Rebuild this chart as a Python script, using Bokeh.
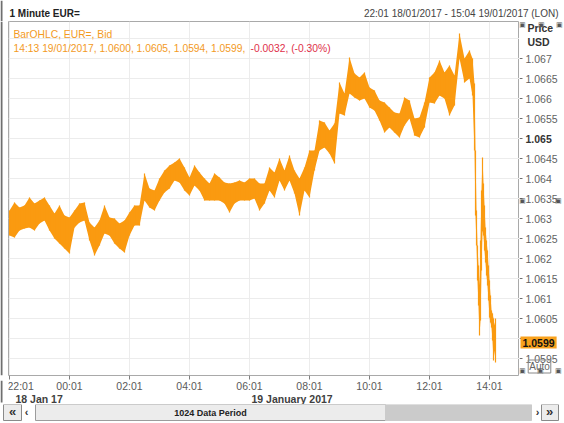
from bokeh.plotting import figure
from bokeh.models import Range1d, FixedTicker, Label
from bokeh.layouts import column, row
from bokeh.embed import file_html
from bokeh.resources import INLINE

# ---------------- data (EUR= 1 minute bars) ----------------
times = ["22:01", "22:11", "22:21", "22:31", "22:41", "22:51",
         "23:01", "23:11", "23:21", "23:31", "23:41", "23:51",
         "00:01", "00:11", "00:21", "00:31", "00:41", "00:51",
         "01:01", "01:11", "01:21", "01:31", "01:41", "01:51",
         "02:01", "02:11", "02:21", "02:31", "02:41", "02:51",
         "03:01", "03:11", "03:21", "03:31", "03:41", "03:51",
         "04:01", "04:11", "04:21", "04:31", "04:41", "04:51",
         "05:01", "05:11", "05:21", "05:31", "05:41", "05:51",
         "06:01", "06:11", "06:21", "06:31", "06:41", "06:51",
         "07:01", "07:11", "07:21", "07:31", "07:41", "07:51",
         "08:01", "08:11", "08:21", "08:31", "08:41", "08:51",
         "09:01", "09:11", "09:21", "09:31", "09:41", "09:51",
         "10:01", "10:11", "10:21", "10:31", "10:41", "10:51",
         "11:01", "11:11", "11:21", "11:31", "11:41", "11:51",
         "12:01", "12:11", "12:21", "12:31", "12:41", "12:51",
         "13:01", "13:11", "13:21", "13:27", "13:31", "13:33",
         "13:35", "13:37", "13:39", "13:41", "13:43", "13:45",
         "13:47", "13:49", "13:51", "13:53", "13:55", "13:57",
         "13:59", "14:01", "14:03", "14:05", "14:07", "14:09",
         "14:11", "14:13"]

highs = [1.0632, 1.0634, 1.063275, 1.063325, 1.063525, 1.063375,
         1.06345, 1.063525, 1.063325, 1.063125, 1.063325, 1.063075,
         1.063025, 1.0632, 1.063375, 1.0634, 1.0629, 1.062775,
         1.06295, 1.063325, 1.063025, 1.0630, 1.062875, 1.06295,
         1.06315, 1.063325, 1.063325, 1.064125, 1.06375, 1.0637,
         1.0640, 1.0642, 1.064325, 1.0644, 1.0645, 1.064275,
         1.064025, 1.064325, 1.06415, 1.0640, 1.063875, 1.064125,
         1.064025, 1.0639, 1.063875, 1.0639, 1.06395, 1.0639,
         1.0640, 1.0640, 1.063875, 1.063875, 1.064275, 1.06415,
         1.0645, 1.0642, 1.064575, 1.0642, 1.0640, 1.064275,
         1.0647, 1.0647, 1.06545, 1.0654, 1.0652, 1.065375,
         1.0664, 1.066125, 1.067025, 1.066625, 1.066525, 1.06665,
         1.066275, 1.0662, 1.06595, 1.0659, 1.065775, 1.06565,
         1.065625, 1.066025, 1.06595, 1.0655, 1.065525, 1.0659,
         1.066525, 1.06665, 1.06695, 1.06665, 1.066825, 1.066575,
         1.067625, 1.0670, 1.0672, 1.0670, 1.066375, 1.0647,
         1.0632, 1.062325, 1.061825, 1.061325, 1.06245, 1.0637,
         1.064525, 1.063875, 1.063325, 1.062775, 1.06245, 1.0622,
         1.061825, 1.06145, 1.061075, 1.0607, 1.060625, 1.0605,
         1.060325, 1.0605]

lows = [1.062575, 1.062525, 1.0627, 1.06275, 1.062775, 1.0627,
        1.062875, 1.06295, 1.0627, 1.0625, 1.062375, 1.06225,
        1.062125, 1.062775, 1.0629, 1.06295, 1.06245, 1.062075,
        1.062325, 1.062625, 1.062575, 1.062375, 1.06225, 1.06215,
        1.062575, 1.062825, 1.062825, 1.06345, 1.063275, 1.0632,
        1.06345, 1.06365, 1.06375, 1.06395, 1.0639, 1.0637,
        1.063575, 1.063825, 1.0637, 1.06345, 1.06345, 1.06345,
        1.06345, 1.063375, 1.06315, 1.063375, 1.06345, 1.06345,
        1.06345, 1.0635, 1.0632, 1.063375, 1.0637, 1.063525,
        1.06395, 1.0637, 1.06395, 1.063625, 1.063075, 1.0637,
        1.063525, 1.0642, 1.0647, 1.064775, 1.064625, 1.064375,
        1.065625, 1.065575, 1.066125, 1.066025, 1.06595, 1.0660,
        1.065775, 1.0657, 1.06545, 1.06515, 1.065275, 1.06515,
        1.065025, 1.065325, 1.0655, 1.065075, 1.065025, 1.065275,
        1.0659, 1.065875, 1.066075, 1.0660, 1.065575, 1.065825,
        1.0670, 1.0664, 1.0665, 1.066075, 1.0647, 1.063075,
        1.062325, 1.06145, 1.060825, 1.060075, 1.06045, 1.0617,
        1.0627, 1.062575, 1.0622, 1.0619, 1.061575, 1.061325,
        1.06095, 1.060525, 1.0604, 1.060275, 1.05995, 1.05945,
        1.0597, 1.0594]

x_tick_labels = ["22:01", "00:01", "02:01", "04:01", "06:01",
                 "08:01", "10:01", "12:01", "14:01"]
y_tick_values = [1.0595, 1.0600, 1.0605, 1.0610, 1.0615, 1.0620, 1.0625,
                 1.0630, 1.0635, 1.0640, 1.0645, 1.0650, 1.0655, 1.0660,
                 1.0665, 1.0670]
y_tick_labels = ["1.0595", "", "1.0605", "1.061", "1.0615", "1.062", "1.0625",
                 "1.063", "1.0635", "1.064", "1.0645", "1.065", "1.0655", "1.066",
                 "1.0665", "1.067"]
y_grid_values = y_tick_values + [1.0675]
last_price = 1.0599
last_price_label = "1.0599"

header_left = "1 Minute EUR="
header_right = "22:01 18/01/2017 - 15:04 19/01/2017 (LON)"
legend_line1 = "BarOHLC, EUR=, Bid"
legend_line2 = "14:13 19/01/2017, 1.0600, 1.0605, 1.0594, 1.0599, "
legend_change = "-0.0032, (-0.30%)"
date_labels = ["18 Jan 17", "19 January 2017"]
scroll_text = "1024 Data Period"


def to_min(s):
    h, m = map(int, s.split(":"))
    t = h * 60 + m - (22 * 60 + 1)
    return t + 1440 if t < 0 else t


xs = [to_min(t) for t in times]
x_ticks = [to_min(t) for t in x_tick_labels]

ORANGE = "#fa9a10"
FONT = "Liberation Sans"
FRAME = "#6f6f6f"
YR = (1.059075, 1.067925)          # price range of the chart frame


def bare(w, h, xr, yr, bg="white"):
    f = figure(width=w, height=h, output_backend="svg", toolbar_location=None,
               x_range=xr, y_range=yr, min_border_left=0, min_border_right=0,
               min_border_top=0, min_border_bottom=0,
               x_axis_location=None, y_axis_location=None)
    f.grid.visible = False
    f.outline_line_color = None
    f.background_fill_color = bg
    f.border_fill_color = bg
    return f


def txt(fig, text, x, y, size="10.5px", color="#5a5a5a", bold=False, align="left",
        units="data", **kw):
    fig.add_layout(Label(x=x, y=y, x_units=units, y_units=units, text=text,
                         text_font=FONT, text_font_size=size, text_color=color,
                         text_font_style="bold" if bold else "normal",
                         text_align=align, text_baseline="middle", **kw))


# ---------------- header strip ----------------
H = bare(564, 21, Range1d(0, 564), Range1d(21, 0))
H.quad(left=[0], right=[2], top=[0], bottom=[21], fill_color=FRAME, line_color=None)
txt(H, header_left, 9, 13, size="10px", color="#222222", bold=True)
txt(H, header_right, 558, 13, size="10px", color="#444444", align="right")

# ---------------- main chart ----------------
p = figure(width=511, height=359, output_backend="svg", toolbar_location=None,
           x_range=Range1d(-2, 1020), y_range=Range1d(*YR),
           min_border_left=0, min_border_right=0, min_border_top=0,
           min_border_bottom=5, y_axis_location=None)
p.background_fill_color = "white"
p.border_fill_color = "white"
p.outline_line_color = "#a9a9a9"

p.xaxis.ticker = FixedTicker(ticks=x_ticks)
p.xaxis.major_label_overrides = {t: "" for t in x_ticks}
p.xaxis.major_label_text_font_size = "1px"
p.xaxis.major_label_standoff = 0
p.xaxis.major_tick_out = 4
p.xaxis.major_tick_in = 0
p.xaxis.minor_tick_out = 0
p.xaxis.minor_tick_in = 0
p.xaxis.axis_line_color = None
p.xaxis.major_tick_line_color = "#808080"

p.xgrid.ticker = FixedTicker(ticks=x_ticks)
p.ygrid.ticker = FixedTicker(ticks=y_grid_values)
p.xgrid.grid_line_color = "#ececec"
p.ygrid.grid_line_color = "#ececec"

# price band (high-low of each bar)
p.varea(x=xs, y1=lows, y2=highs, fill_color=ORANGE, fill_alpha=1.0)
p.segment(x0=xs, y0=lows, x1=xs, y1=highs, line_color=ORANGE, line_width=1.2)

# legend texts inside the chart (screen units from the frame's lower-left corner)
txt(p, legend_line1, 5, 341, size="10.3px", color="#f39a1e", units="screen")
txt(p, legend_line2, 5, 327, size="10.3px", color="#f39a1e", units="screen")
txt(p, legend_change, 242, 327, size="10.3px", color="#e0304a", units="screen")

# ---------------- left frame strip ----------------
L = bare(8, 359, Range1d(0, 8), Range1d(0, 1))
L.quad(left=[0], right=[2], top=[1], bottom=[0], fill_color=FRAME, line_color=None)

# ---------------- right price axis ----------------
R = bare(45, 359, Range1d(519, 564), Range1d(*YR))
R.min_border_bottom = 5
R.segment(x0=[519] * len(y_tick_values), x1=[522] * len(y_tick_values),
          y0=y_tick_values, y1=y_tick_values, line_color="#707070", line_width=1)
for v, t in zip(y_tick_values, y_tick_labels):
    if not t:
        continue
    bold = (t == "1.065")
    txt(R, t, 525, v, size="10.5px", color="#333333" if bold else "#5f5f5f", bold=bold)

txt(R, last_price_label, 520, last_price, size="10.5px", color="#111111", bold=True,
    background_fill_color="#f9a21e", padding=2)


def rs(rx, ry):
    return rx - 519, 375 - ry


for t, (rx, ry) in [("Price", (527, 27)), ("USD", (527, 41))]:
    x, y = rs(rx, ry)
    txt(R, t, x, y, size="10.5px", color="#333333", bold=True, units="screen")
for rx, ry in [(522, 24), (541, 24), (559, 24), (522, 200), (558, 200),
               (522, 370), (540, 370), (558, 370)]:
    x, y = rs(rx, ry)
    txt(R, "\u25a3", x, y, size="7px", color="#555555", align="center", units="screen")
x, y = rs(539, 366)
txt(R, "Auto", x, y, size="10px", color="#666666", align="center", units="screen",
    border_line_color="#888888", padding=1)

# ---------------- time labels and dates (same x scale as the chart) ----------------
Lb = bare(8, 24, Range1d(0, 8), Range1d(404, 380))
Lb.quad(left=[0], right=[2], top=[380], bottom=[402], fill_color=FRAME, line_color=None)
Bm = bare(511, 24, p.x_range, Range1d(404, 380))
for i, (t, lab) in enumerate(zip(x_ticks, x_tick_labels)):
    if i == 0:
        Bm.add_layout(Label(x=t, y=385, text=lab, x_offset=-2, text_font=FONT,
                            text_font_size="10.5px", text_color="#5a5a5a",
                            text_align="left", text_baseline="middle"))
    else:
        txt(Bm, lab, t, 385, size="10.5px", color="#5a5a5a", align="center")
for lab, sx in [(date_labels[0], 7), (date_labels[1], 243)]:
    txt(Bm, lab, sx, 6, size="10.5px", color="#404040", bold=True, units="screen")
Rb = bare(45, 24, Range1d(0, 1), Range1d(0, 1))

# ---------------- scrollbar strip ----------------
S = bare(564, 19, Range1d(0, 564), Range1d(423, 404))
S.quad(left=[3, 35, 385, 541], right=[21, 385, 531, 558], top=[404, 404, 404, 404],
       bottom=[420, 420, 420, 420],
       fill_color=["#ececec", "#ececec", "#cbcbcb", "#ececec"],
       line_color=["#8a8a8a", "#9c9c9c", "#cbcbcb", "#8a8a8a"])
for t, tx, sz in [("\u00ab", 12, "13px"), ("\u2039", 26, "11px"),
                  ("\u203a", 537, "11px"), ("\u00bb", 549, "13px")]:
    txt(S, t, tx, 411, size=sz, color="#333333", bold=True, align="center")
txt(S, scroll_text, 210, 412, size="9px", color="#222222", bold=True, align="center")

layout = column(H, row(L, p, R, spacing=0), row(Lb, Bm, Rb, spacing=0), S, spacing=0)
open("out.html", "w").write(file_html(layout, INLINE))
